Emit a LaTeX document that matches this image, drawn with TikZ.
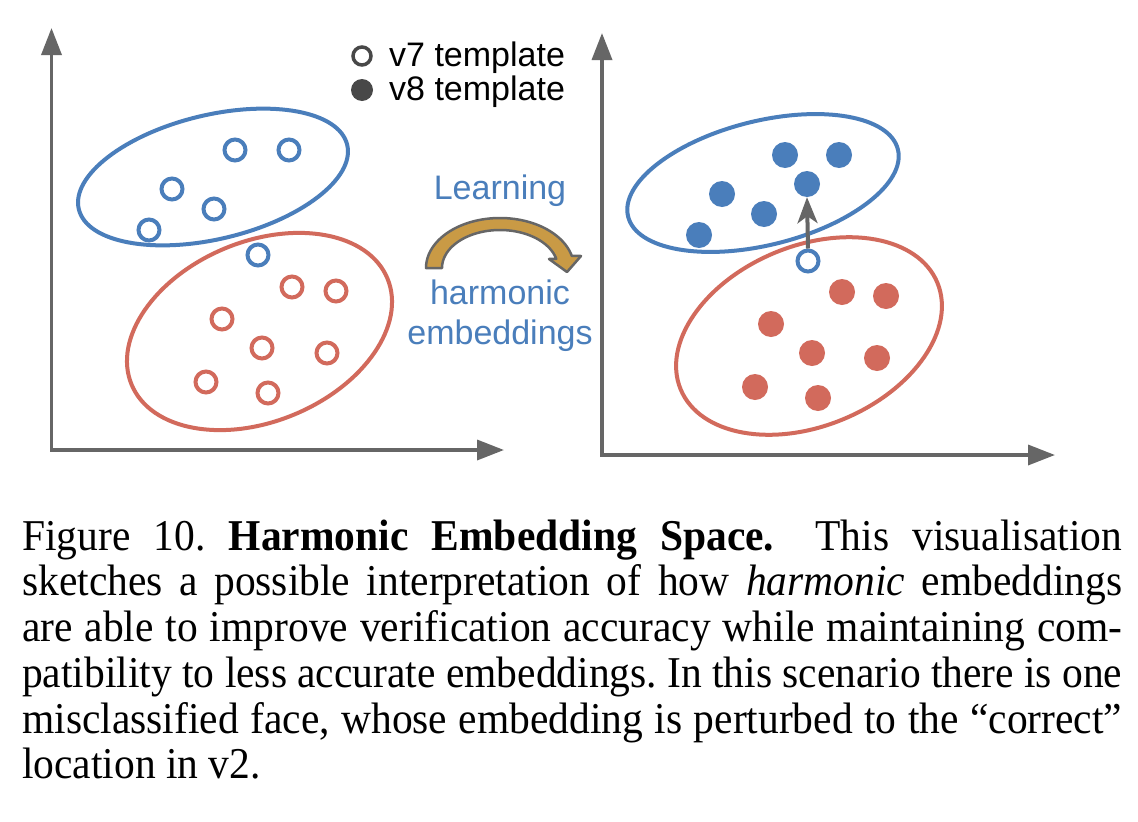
\documentclass[tikz,border=0pt]{standalone}
\usepackage{fontspec}
\usepackage{graphicx}
\setmainfont{Liberation Serif}
\newfontfamily\arialf{Liberation Sans}
\usetikzlibrary{arrows.meta,shapes.geometric}
\definecolor{cblue}{HTML}{4A7EBB}
\definecolor{cred}{HTML}{D26A5C}
\definecolor{caxis}{HTML}{666666}
\definecolor{cgold}{HTML}{C99A45}
\definecolor{cdark}{HTML}{484848}
\tikzset{
 axisline/.style={draw=caxis, line width=3.5pt, line join=miter, {Triangle[length=27pt,width=20pt]}-{Triangle[length=27pt,width=20pt]}},
 clus/.style={ellipse, draw=#1, line width=4pt, inner sep=0pt},
 hol/.style={circle, draw=#1, line width=4pt, minimum size=21pt, inner sep=0pt},
 dot/.style={circle, fill=#1, minimum size=26pt, inner sep=0pt},
 lbl/.style={font=\arialf\fontsize{34}{40}\selectfont, text=cblue, align=center, inner sep=0pt},
 leg/.style={font=\arialf\fontsize{34}{36}\selectfont, text=black, inner sep=0pt, anchor=base west},
 moveup/.style={draw=caxis, line width=4pt, -{Stealth[length=26pt,width=20pt,inset=7pt]}},
 goldarrow/.style={fill=cgold, draw=caxis, line width=2.5pt, line join=round},
}
\begin{document}
\begin{tikzpicture}[x=1pt,y=-1pt]
\useasboundingbox (0,0) rectangle (1138,822);
\fill[white] (0,0) rectangle (1138,822);

% axes
\coordinate (ly) at (51.5,28);
\coordinate (lo) at (51.5,450);
\coordinate (lx) at (504,450);
\draw[axisline] (ly) -- (lo) -- (lx);
\coordinate (ry) at (602,33);
\coordinate (ro) at (602,455);
\coordinate (rx) at (1055,455);
\draw[axisline] (ry) -- (ro) -- (rx);

% clusters
\node[clus=cblue, minimum width=276pt, minimum height=124pt, rotate=13.5] (e1) at (213,177) {};
\node[clus=cred, minimum width=277pt, minimum height=180pt, rotate=22.5] (e2) at (259.5,331.5) {};
\node[clus=cblue, minimum width=278pt, minimum height=124pt, rotate=14] (e3) at (763,183) {};
\node[clus=cred, minimum width=278pt, minimum height=180pt, rotate=22.6] (e4) at (809,336) {};

% left panel: v7 templates
\node[hol=cblue] (a1) at (235,150) {};
\node[hol=cblue] (a2) at (289,150) {};
\node[hol=cblue] (a3) at (172,189) {};
\node[hol=cblue] (a4) at (214,209) {};
\node[hol=cblue] (a5) at (149,230) {};
\node[hol=cblue] (a6) at (258,255) {};
\node[hol=cred] (r1) at (292,287) {};
\node[hol=cred] (r2) at (336,291) {};
\node[hol=cred] (r3) at (222,319) {};
\node[hol=cred] (r4) at (262,348) {};
\node[hol=cred] (r5) at (327,353) {};
\node[hol=cred] (r6) at (206,382) {};
\node[hol=cred] (r7) at (268,393) {};

% right panel: v8 templates
\node[dot=cblue] (b1) at (785,155) {};
\node[dot=cblue] (b2) at (839,155) {};
\node[dot=cblue] (b3) at (722,194) {};
\node[dot=cblue] (b4) at (807,184) {};
\node[dot=cblue] (b5) at (764,214) {};
\node[dot=cblue] (b6) at (699,235) {};
\node[hol=cblue] (h) at (808,261) {};
\node[dot=cred] (s1) at (842,292) {};
\node[dot=cred] (s2) at (886,296) {};
\node[dot=cred] (s3) at (771,324) {};
\node[dot=cred] (s4) at (812,353) {};
\node[dot=cred] (s5) at (877,358) {};
\node[dot=cred] (s6) at (755,387) {};
\node[dot=cred] (s7) at (818,398) {};
\draw[moveup] (h.north) -- (b4.south);

% legend
\node[hol=cdark, minimum size=18pt, line width=3.5pt] (l7) at (362,56) {};
\node[dot=cdark, minimum size=22pt] (l8) at (362,90) {};
\node[leg] (t7) at (389,66.5) {v7 template};
\node[leg] (t8) at (389,100.5) {v8 template};

% middle
\node[lbl] (learn) at (500,191) {Learning};
\draw[goldarrow] plot[domain=180:14,samples=60] ({500+74*cos(\x)},{268-50*sin(\x)})
  -- (581,256) -- (567,272) -- (549,259)
  -- plot[domain=14:180,samples=60] ({500+58*cos(\x)},{268-38*sin(\x)}) -- cycle;
\node[lbl] (harm) at (500,316) {harmonic\\embeddings};

% caption
\node[anchor=base west, inner sep=0pt, font=\fontsize{41.5}{43.2}\selectfont] (cap) at (22,550) {%
\scalebox{1}[1.06]{\vtop{\hsize=1100pt \baselineskip=43.2pt \frenchspacing
\hbox to 1100pt{Figure 10. \textbf{Harmonic Embedding Space.}\hskip 0.5em plus 0.2em This visualisation}
\hbox to 1100pt{sketches a possible interpretation of how \textit{harmonic} embeddings}
\hbox to 1100pt{are able to improve verification accuracy while maintaining com-}
\hbox to 1100pt{patibility to less accurate embeddings. In this scenario there is one}
\hbox to 1100pt{misclassified face, whose embedding is perturbed to the “correct”}
\hbox{location in v2.}}}};
\end{tikzpicture}
\end{document}
